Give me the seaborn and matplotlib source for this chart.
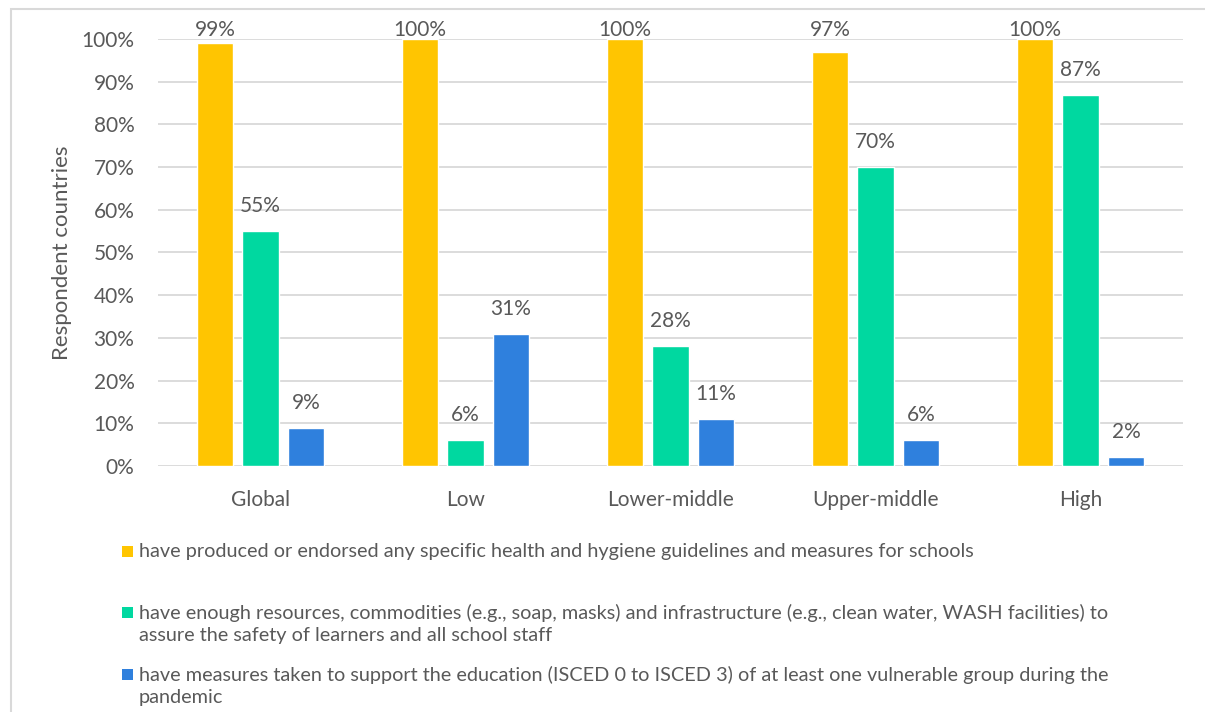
import matplotlib
matplotlib.use("Agg")
import matplotlib.pyplot as plt
import seaborn as sns
import pandas as pd
from matplotlib.patches import Rectangle
from matplotlib.ticker import PercentFormatter

categories = ["Global", "Low", "Lower-middle", "Upper-middle", "High"]
series_names = [
    "have produced or endorsed any specific health and hygiene guidelines and measures for schools",
    "have enough resources, commodities (e.g., soap, masks) and infrastructure (e.g., clean water, WASH facilities) to\nassure the safety of learners and all school staff",
    "have measures taken to support the education (ISCED 0 to ISCED 3) of at least one vulnerable group during the\npandemic",
]
guidelines = [99, 100, 100, 97, 100]
resources = [55, 6, 28, 70, 87]
vulnerable = [9, 31, 11, 6, 2]
colors = ["#FFC501", "#00D8A0", "#2F80DD"]
yticks = [0, 10, 20, 30, 40, 50, 60, 70, 80, 90, 100]

sns.set_theme(style="white")
plt.rcParams["font.family"] = ["Lato", "DejaVu Sans"]
TXT = "#595959"
FS = 15
LFS = 14.3
W, H = 1205, 712

rows = []
for name, vals in zip(series_names, [guidelines, resources, vulnerable]):
    for c, v in zip(categories, vals):
        rows.append({"category": c, "series": name, "value": v})
df = pd.DataFrame(rows)

fig = plt.figure(figsize=(W / 100, H / 100), dpi=100)
ax = fig.add_axes([158 / W, 1 - 466 / H, 1025 / W, 427 / H])

sns.barplot(data=df, x="category", y="value", hue="series", palette=colors,
            width=0.666, gap=0.2, ax=ax, legend=False, saturation=1)

ax.set_ylim(0, 100)
ax.set_xlim(-0.5, 4.5)
ax.set_yticks(yticks)
ax.yaxis.set_major_formatter(PercentFormatter(decimals=0))
ax.grid(axis="y", color="#D9D9D9", linewidth=1.3)
ax.set_axisbelow(True)
for s in ax.spines.values():
    s.set_visible(False)
ax.tick_params(axis="both", length=0, labelsize=FS, labelcolor=TXT)
ax.tick_params(axis="y", pad=17)
ax.tick_params(axis="x", pad=17)
ax.set_xlabel("")
ax.set_ylabel("Respondent countries", fontsize=16, color=TXT, labelpad=7)

# data labels: ~19 px above the bar, kept inside the chart area at the top
max_base = H - 36  # display y (px) of highest allowed baseline
for cont in ax.containers:
    for bar, v in zip(cont.patches, cont.datavalues):
        xc = bar.get_x() + bar.get_width() / 2
        top = ax.transData.transform((xc, v))[1]
        pad_px = min(19, max_base - top)
        ax.annotate(f"{v:.0f}%", xy=(xc, v), xytext=(0, pad_px * 72 / 100),
                    textcoords="offset points", ha="center", va="baseline",
                    fontsize=FS, color=TXT, annotation_clip=False)

# legend (manual, below the plot)
leg_y = [554, 615, 677]
for name, col, y in zip(series_names, colors, leg_y):
    fig.patches.append(Rectangle((122 / W, 1 - (y + 3) / H), 11 / W, 11 / H,
                                 transform=fig.transFigure, facecolor=col, edgecolor="none"))
    fig.text(139 / W, 1 - (y - 11) / H, name, fontsize=LFS, color=TXT,
             va="top", ha="left", linespacing=1.33)

# chart border
fig.patches.append(Rectangle((11 / W, -0.05), 1.1, 1 - 9 / H + 0.05,
                             transform=fig.transFigure, facecolor="none",
                             edgecolor="#D9D9D9", linewidth=1.5, clip_on=False))

fig.savefig("out.png", dpi=100)
